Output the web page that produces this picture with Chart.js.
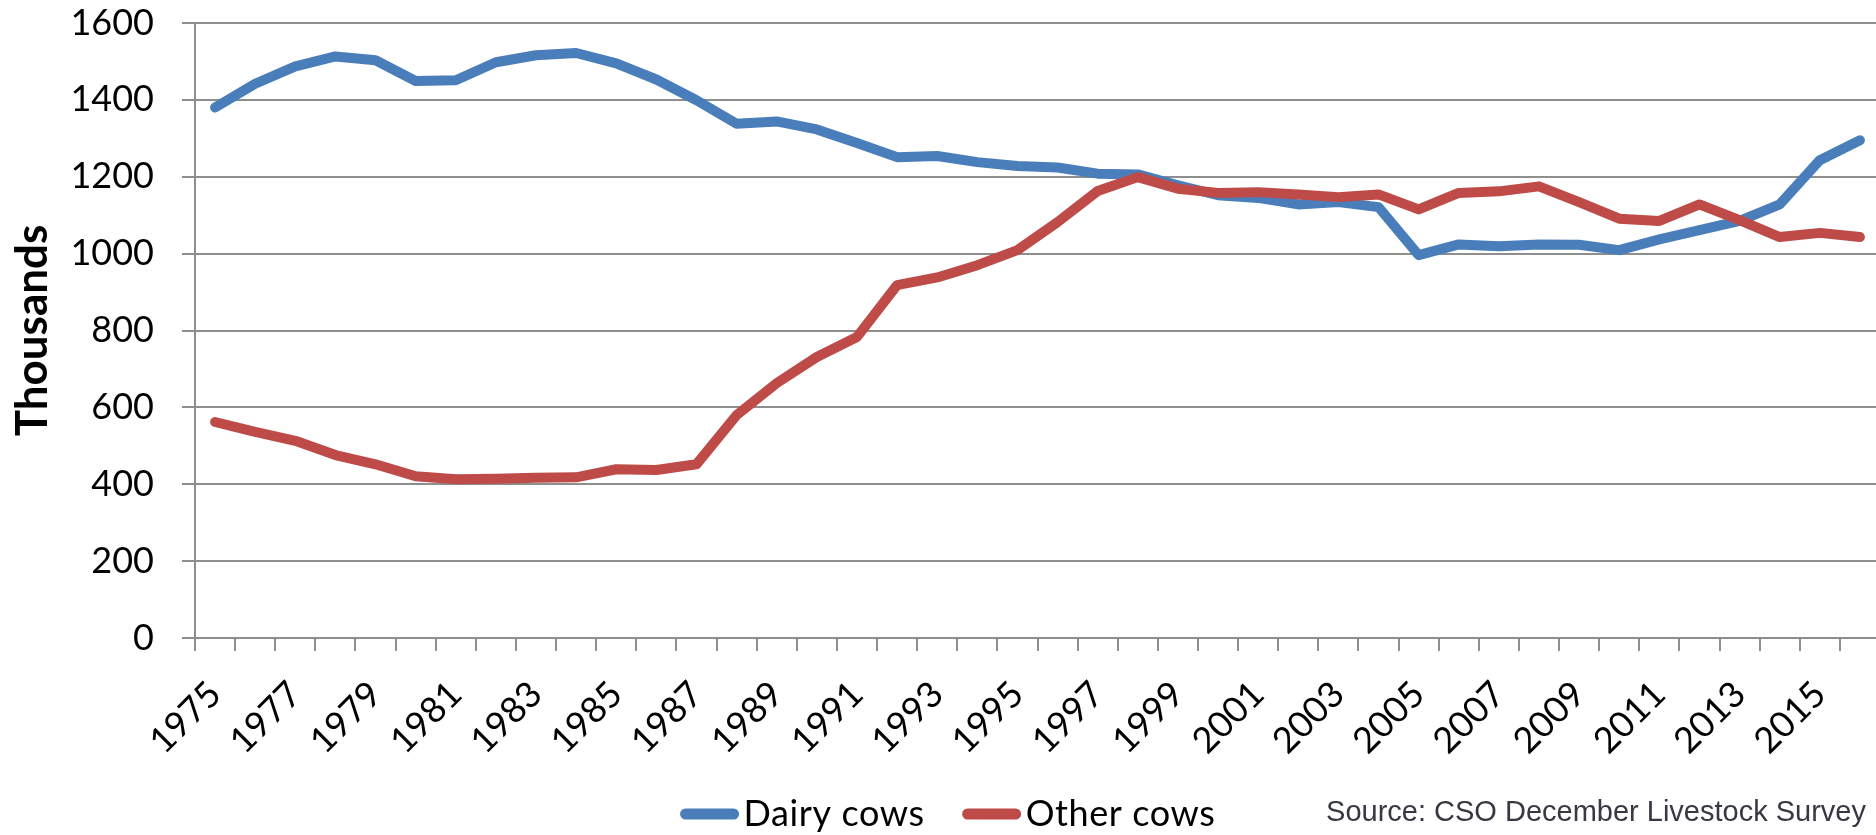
<!DOCTYPE html>
<html>
<head>
<meta charset="utf-8">
<title>Dairy and other cows</title>
<script src="https://cdn.jsdelivr.net/npm/chart.js@4/dist/chart.umd.min.js"></script>
<style>
  html, body { margin: 0; padding: 0; background: #ffffff; overflow: hidden; }
  #wrap { position: absolute; left: 0; top: 0; width: 1890px; height: 835px; }
</style>
</head>
<body>
<div id="wrap"><canvas id="chart"></canvas></div>
<script>
// Cow numbers in December, thousands
const years = [
  '1975','1976','1977','1978','1979','1980','1981','1982','1983','1984',
  '1985','1986','1987','1988','1989','1990','1991','1992','1993','1994',
  '1995','1996','1997','1998','1999','2000','2001','2002','2003','2004',
  '2005','2006','2007','2008','2009','2010','2011','2012','2013','2014',
  '2015','2016'
];
const dairyCows = [
  1380, 1442, 1487, 1513, 1503, 1449, 1451, 1498, 1516, 1522,
  1495, 1453, 1399, 1338, 1344, 1323, 1288, 1251, 1254, 1238,
  1228, 1224, 1208, 1206, 1178, 1152, 1145, 1128, 1134, 1121,
  996, 1024, 1019, 1024, 1023, 1009, 1037, 1061, 1085, 1128,
  1243, 1295
];
const otherCows = [
  562, 536, 513, 476, 452, 421, 413, 414, 417, 418,
  439, 437, 452, 580, 663, 731, 783, 918, 938, 970,
  1009, 1082, 1163, 1199, 1169, 1158, 1160, 1154, 1147, 1154,
  1115, 1158, 1162, 1175, 1134, 1091, 1085, 1128, 1087, 1043,
  1054, 1043
];
const yTicks = { min: 0, max: 1600, step: 200 };
const axisTitle = 'Thousands';
const sourceNote = 'Source: CSO December Livestock Survey';

const GRID = '#8e8e8e';
const BLUE = '#4a7ebb';
const RED = '#be4b48';

// Legend drawn along the bottom: rounded line swatch followed by its label
const bottomLegend = {
  id: 'bottomLegend',
  afterDraw(chart) {
    const ctx = chart.ctx;
    ctx.save();
    ctx.font = '36px Lato';
    if ('letterSpacing' in ctx) ctx.letterSpacing = '0.6px';
    const swatch = 58, gap = 5, itemGap = 38, centerX = 948, y = 814;
    const items = chart.data.datasets.map(ds => ({
      text: ds.label, color: ds.borderColor, w: ctx.measureText(ds.label).width
    }));
    const total = items.reduce((s, it) => s + swatch + gap + it.w, 0) + itemGap * (items.length - 1);
    let x = centerX - total / 2;
    items.forEach(it => {
      ctx.strokeStyle = it.color;
      ctx.lineWidth = 11;
      ctx.lineCap = 'round';
      ctx.beginPath();
      ctx.moveTo(x + 5, y);
      ctx.lineTo(x + swatch - 5, y);
      ctx.stroke();
      ctx.fillStyle = '#000000';
      ctx.textBaseline = 'alphabetic';
      ctx.textAlign = 'left';
      ctx.fillText(it.text, x + swatch + gap, 826);
      x += swatch + gap + it.w + itemGap;
    });
    // source note, right side
    if ('letterSpacing' in ctx) ctx.letterSpacing = '0px';
    ctx.font = '29px "Liberation Sans", Arial, sans-serif';
    ctx.fillStyle = '#383844';
    ctx.textAlign = 'right';
    ctx.fillText(sourceNote, 1866, 821);
    ctx.restore();
  }
};

new Chart(document.getElementById('chart'), {
  type: 'line',
  data: {
    labels: years,
    datasets: [
      {
        label: 'Dairy cows', data: dairyCows, order: 1,
        borderColor: BLUE, backgroundColor: BLUE,
        borderWidth: 10, pointRadius: 0, tension: 0,
        borderCapStyle: 'round', borderJoinStyle: 'round'
      },
      {
        label: 'Other cows', data: otherCows, order: 0,
        borderColor: RED, backgroundColor: RED,
        borderWidth: 10, pointRadius: 0, tension: 0,
        borderCapStyle: 'round', borderJoinStyle: 'round'
      }
    ]
  },
  options: {
    responsive: true,
    maintainAspectRatio: false,
    animation: false,
    events: [],
    layout: { padding: { left: 0, right: 10, top: 23, bottom: 77 } },
    plugins: { legend: { display: false }, tooltip: { enabled: false } },
    scales: {
      x: {
        offset: true,
        grid: { offset: true, drawOnChartArea: false, drawTicks: true, tickLength: 13, color: GRID, lineWidth: 2 },
        border: { display: true, color: GRID, width: 2 },
        ticks: {
          autoSkip: false, minRotation: 45, maxRotation: 45, padding: 22,
          color: '#000000', font: { family: 'Lato', size: 36 },
          callback(value, index) { return index % 2 === 0 ? this.getLabelForValue(value) : ''; }
        },
        afterFit(scale) {
          scale.height = 120;
          scale.paddingLeft = 0;
          scale.paddingRight = 0;
        }
      },
      y: {
        min: yTicks.min, max: yTicks.max,
        grid: { drawTicks: true, tickLength: 13, color: GRID, lineWidth: 2 },
        border: { display: true, color: GRID, width: 2 },
        ticks: {
          stepSize: yTicks.step, padding: 28, color: '#000000',
          font: { family: 'Lato', size: 36 },
          callback: v => String(v)
        },
        title: {
          display: true, text: axisTitle, color: '#000000',
          font: { family: 'Lato', size: 44, weight: 'bold', lineHeight: 1 },
          padding: { top: 11, bottom: 0 }
        },
        afterFit(scale) {
          scale.width = 195;
          scale.paddingTop = 0;
          scale.paddingBottom = 0;
        }
      }
    }
  },
  plugins: [bottomLegend]
});
</script>
</body>
</html>
